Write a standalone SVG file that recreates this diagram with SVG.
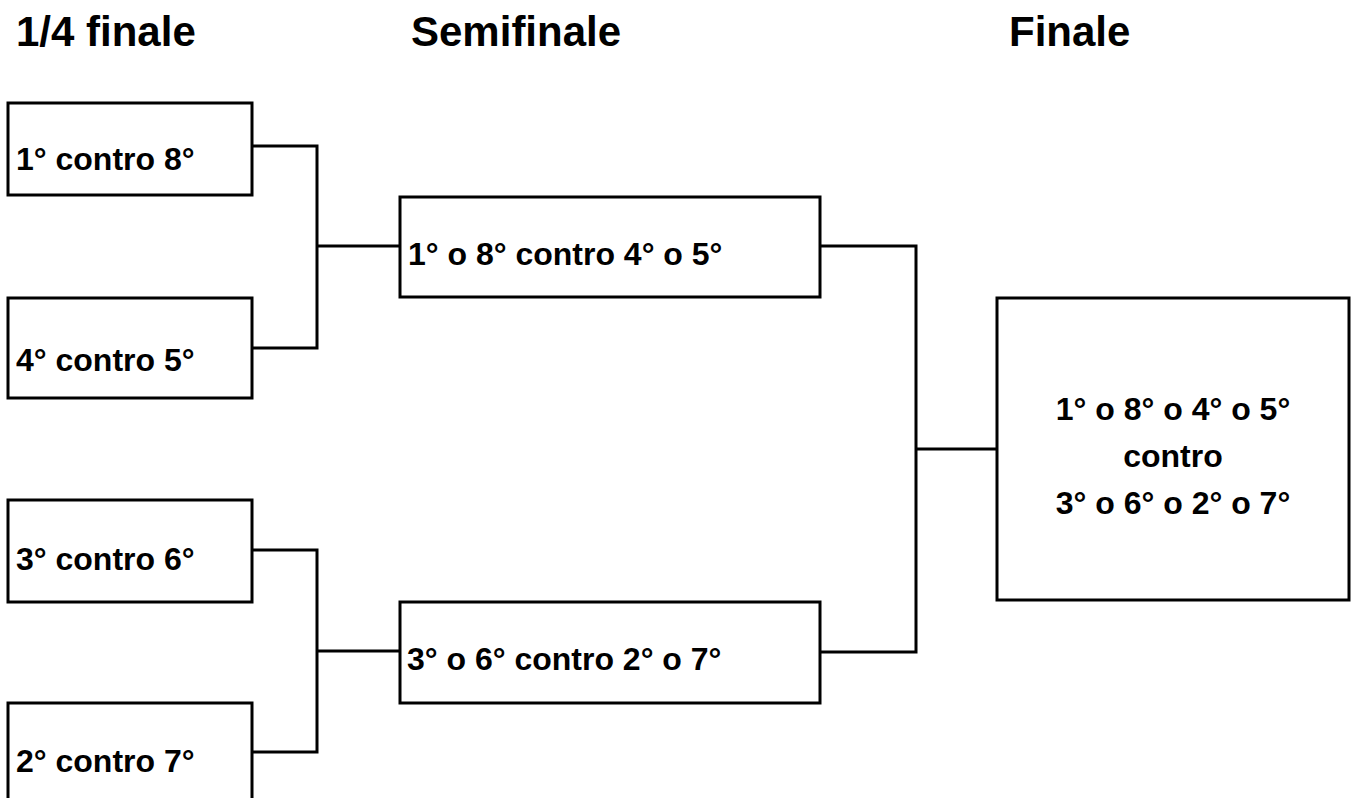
<svg xmlns="http://www.w3.org/2000/svg" width="1352" height="798" viewBox="0 0 1352 798">
<style>
.box{fill:#fff;stroke:#000;stroke-width:3}
.t{font-family:"Liberation Sans",Arial,sans-serif;font-weight:bold;font-size:32px;fill:#000}
.h{font-family:"Liberation Sans",Arial,sans-serif;font-weight:bold;font-size:42px;fill:#000}
.c{fill:none;stroke:#000;stroke-width:3}
</style>
<rect width="1352" height="798" fill="#fff"/>
<g id="titles">
<text class="h" x="16" y="46">1/4 finale</text>
<text class="h" x="411" y="46">Semifinale</text>
<text class="h" x="1009" y="46">Finale</text>
</g>
<g id="connectors">
<path class="c" d="M252,146 H317 V348 H252 M317,246 H400"/>
<path class="c" d="M252,550 H317 V752 H252 M317,651 H400"/>
<path class="c" d="M820,246 H916 V652 H820 M916,449 H997"/>
</g>
<g id="q1"><rect class="box" x="8" y="103" width="244" height="92"/><text class="t" x="16" y="170">1° contro 8°</text></g>
<g id="q2"><rect class="box" x="8" y="298" width="244" height="100"/><text class="t" x="16" y="371">4° contro 5°</text></g>
<g id="q3"><rect class="box" x="8" y="500" width="244" height="102"/><text class="t" x="16" y="570">3° contro 6°</text></g>
<g id="q4"><rect class="box" x="8" y="703" width="244" height="100"/><text class="t" x="16" y="772">2° contro 7°</text></g>
<g id="s1"><rect class="box" x="400" y="197" width="420" height="100"/><text class="t" x="408" y="265">1° o 8° contro 4° o 5°</text></g>
<g id="s2"><rect class="box" x="400" y="602" width="420" height="101"/><text class="t" x="407" y="670">3° o 6° contro 2° o 7°</text></g>
<g id="f"><rect class="box" x="997" y="298" width="352" height="302"/>
<text class="t" text-anchor="middle" x="1173" y="420">1° o 8° o 4° o 5°</text>
<text class="t" text-anchor="middle" x="1173" y="467">contro</text>
<text class="t" text-anchor="middle" x="1173" y="514">3° o 6° o 2° o 7°</text></g>
</svg>
